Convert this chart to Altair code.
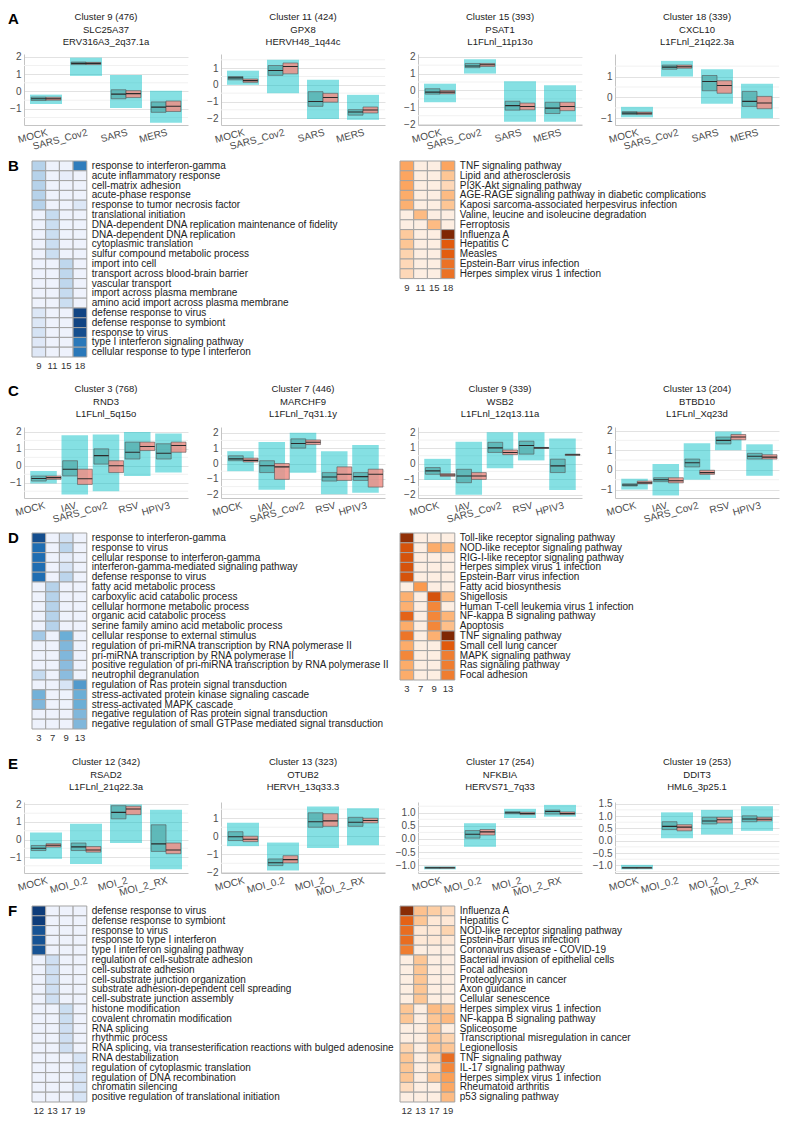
import altair as alt
import pandas as pd

FONT = "Liberation Sans"
TEAL = "#00BFC4"
TEAL_BOX = "#58b1b1"
SALMON_BOX = "#ee8e86"
PANEL_LETTERS = ["A", "B", "C", "D", "E", "F"]

# ---------------- Panel A ----------------
A_CATS = ["MOCK", "SARS_Cov2", "SARS", "MERS"]
A_TITLES = [["Cluster 9 (476)", "SLC25A37", "ERV316A3_2q37.1a"],
            ["Cluster 11 (424)", "GPX8", "HERVH48_1q44c"],
            ["Cluster 15 (393)", "PSAT1", "L1FLnl_11p13o"],
            ["Cluster 18 (339)", "CXCL10", "L1FLnl_21q22.3a"]]
A_DOMAINS = [[-1.93, 2.16], [-2.41, 1.85], [-2.05, 2.16], [-1.32, 2.08]]
A1_TEAL = [(-0.52, -0.42, -0.32), (1.55, 1.62, 1.70), (-0.42, -0.15, 0.10), (-1.20, -0.90, -0.60)]
A1_SALMON = [(-0.50, -0.42, -0.33), (1.55, 1.62, 1.68), (-0.35, -0.12, 0.05), (-1.15, -0.85, -0.55)]
A1_CLOUD = [(-0.72, -0.18), (0.90, 1.95), (-0.95, 0.95), (-1.80, 0.05)]
A2_TEAL = [(0.30, 0.42, 0.50), (0.57, 0.86, 1.16), (-1.29, -1.00, -0.41), (-1.82, -1.63, -1.49)]
A2_SALMON = [(0.15, 0.25, 0.35), (0.66, 1.10, 1.31), (-1.04, -0.76, -0.51), (-1.69, -1.51, -1.33)]
A2_CLOUD = [(0.00, 0.85), (-0.50, 1.50), (-2.05, 0.30), (-2.10, -0.60)]
A3_TEAL = [(-0.22, -0.10, 0.10), (1.35, 1.45, 1.60), (-1.17, -0.90, -0.64), (-1.37, -1.05, -0.70)]
A3_SALMON = [(-0.20, -0.10, 0.00), (1.42, 1.52, 1.60), (-1.15, -0.95, -0.75), (-1.20, -0.95, -0.70)]
A3_CLOUD = [(-0.70, 0.40), (1.00, 1.85), (-1.85, 0.55), (-1.85, 0.30)]
A4_TEAL = [(-0.82, -0.75, -0.68), (1.35, 1.45, 1.55), (0.32, 0.76, 1.05), (-0.43, -0.19, 0.29)]
A4_SALMON = [(-0.82, -0.76, -0.70), (1.40, 1.47, 1.55), (0.20, 0.57, 0.80), (-0.54, -0.27, 0.05)]
A4_CLOUD = [(-0.95, -0.45), (1.00, 1.75), (-0.30, 1.35), (-1.00, 0.65)]
A_MAJOR = [[-1, 0, 1, 2], [-2, -1, 0, 1], [-2, -1, 0, 1, 2], [-1, 0, 1]]
A_MINOR = [[-1.5, -0.5, 0.5, 1.5], [-1.5, -0.5, 0.5, 1.5], [-1.5, -0.5, 0.5, 1.5], [-0.5, 0.5, 1.5]]

# ---------------- Panel B ----------------
B_COLS = ["9", "11", "15", "18"]
B_GO_LABELS = ["response to interferon-gamma", "acute inflammatory response", "cell-matrix adhesion",
               "acute-phase response", "response to tumor necrosis factor", "translational initiation",
               "DNA-dependent DNA replication maintenance of fidelity", "DNA-dependent DNA replication",
               "cytoplasmic translation", "sulfur compound metabolic process", "import into cell",
               "transport across blood-brain barrier", "vascular transport", "import across plasma membrane",
               "amino acid import across plasma membrane", "defense response to virus",
               "defense response to symbiont", "response to virus", "type I interferon signaling pathway",
               "cellular response to type I interferon"]
B_GO_VALUES = [[0.30, 0, 0, 0.70], [0.30, 0, 0.05, 0], [0.30, 0, 0, 0], [0.30, 0, 0, 0], [0.30, 0, 0, 0.12],
               [0, 0.25, 0, 0], [0, 0.22, 0, 0], [0, 0.22, 0, 0], [0, 0.22, 0, 0], [0, 0.22, 0, 0],
               [0, 0, 0.27, 0], [0, 0, 0.27, 0], [0, 0, 0.27, 0], [0, 0, 0.25, 0], [0, 0, 0.22, 0],
               [0.12, 0, 0, 0.92], [0.12, 0, 0, 0.92], [0.16, 0, 0, 0.88], [0.10, 0, 0, 0.72], [0.10, 0, 0, 0.72]]
B_KEGG_LABELS = ["TNF signaling pathway", "Lipid and atherosclerosis", "PI3K-Akt signaling pathway",
                 "AGE-RAGE signaling pathway in diabetic complications",
                 "Kaposi sarcoma-associated herpesvirus infection", "Valine, leucine and isoleucine degradation",
                 "Ferroptosis", "Influenza A", "Hepatitis C", "Measles", "Epstein-Barr virus infection",
                 "Herpes simplex virus 1 infection"]
B_KEGG_VALUES = [[0.45, 0, 0, 0.45], [0.45, 0, 0, 0.30], [0.45, 0, 0, 0.18], [0.42, 0, 0, 0.35],
                 [0.40, 0, 0, 0.30], [0, 0.35, 0, 0], [0, 0, 0.35, 0], [0.28, 0, 0, 1.0],
                 [0.30, 0, 0, 0.75], [0.22, 0, 0, 0.74], [0.18, 0, 0, 0.66], [0.18, 0, 0, 0.66]]

# ---------------- Panel C ----------------
C_CATS = ["MOCK", "IAV", "SARS_Cov2", "RSV", "HPIV3"]
C_TITLES = [["Cluster 3 (768)", "RND3", "L1FLnl_5q15o"],
            ["Cluster 7 (446)", "MARCHF9", "L1FLnl_7q31.1y"],
            ["Cluster 9 (339)", "WSB2", "L1FLnl_12q13.11a"],
            ["Cluster 13 (204)", "BTBD10", "L1FLnl_Xq23d"]]
C_DOMAINS = [[-1.90, 2.29], [-2.24, 2.37], [-2.21, 2.34], [-1.43, 2.18]]
C1_TEAL = [(-0.90, -0.75, -0.60), (-0.60, -0.20, 0.30), (0.10, 0.60, 1.00), (0.40, 0.80, 1.40), (0.40, 0.74, 1.30)]
C1_SALMON = [(-0.80, -0.70, -0.60), (-1.10, -0.76, -0.20), (-0.40, 0.00, 0.30), (0.90, 1.14, 1.40), (0.80, 1.20, 1.40)]
C1_CLOUD = [(-1.05, -0.30), (-1.70, 1.80), (-1.50, 1.85), (-0.60, 2.00), (-0.40, 1.90)]
C2_TEAL = [(0.18, 0.30, 0.50), (-0.59, -0.15, 0.18), (1.00, 1.30, 1.60), (-1.14, -0.88, -0.59), (-1.10, -0.85, -0.59)]
C2_SALMON = [(0.10, 0.20, 0.35), (-1.03, -0.22, 0.00), (1.23, 1.38, 1.53), (-1.10, -0.70, -0.22), (-1.53, -0.70, -0.37)]
C2_CLOUD = [(-0.50, 0.80), (-1.70, 1.40), (-0.60, 2.00), (-2.00, 0.80), (-1.90, 1.20)]
C3_TEAL = [(-0.69, -0.47, -0.26), (-1.23, -0.80, -0.37), (0.71, 1.00, 1.36), (0.60, 1.15, 1.43), (-0.58, -0.15, 0.28)]
C3_SALMON = [(-0.82, -0.74, -0.65), (-1.02, -0.80, -0.58), (0.57, 0.71, 0.87), (0.97, 1.00, 1.03), (0.52, 0.56, 0.60)]
C3_CLOUD = [(-1.05, 0.30), (-2.00, 1.40), (-0.30, 2.00), (0.20, 2.00), (-1.70, 1.60)]
C4_TEAL = [(-0.82, -0.77, -0.71), (-0.60, -0.50, -0.40), (0.15, 0.36, 0.55), (1.32, 1.50, 1.67), (0.55, 0.69, 0.84)]
C4_SALMON = [(-0.71, -0.66, -0.57), (-0.66, -0.55, -0.40), (-0.23, -0.14, -0.02), (1.53, 1.67, 1.80), (0.55, 0.65, 0.77)]
C4_CLOUD = [(-1.00, -0.45), (-1.30, 0.30), (-0.50, 1.35), (1.00, 1.95), (-0.30, 1.30)]
C_MAJOR = [[-1, 0, 1, 2], [-2, -1, 0, 1, 2], [-2, -1, 0, 1, 2], [-1, 0, 1, 2]]
C_MINOR = [[-1.5, -0.5, 0.5, 1.5], [-1.5, -0.5, 0.5, 1.5], [-1.5, -0.5, 0.5, 1.5], [-0.5, 0.5, 1.5]]

# ---------------- Panel D ----------------
D_COLS = ["3", "7", "9", "13"]
D_GO_LABELS = ["response to interferon-gamma", "response to virus", "cellular response to interferon-gamma",
               "interferon-gamma-mediated signaling pathway", "defense response to virus",
               "fatty acid metabolic process", "carboxylic acid catabolic process",
               "cellular hormone metabolic process", "organic acid catabolic process",
               "serine family amino acid metabolic process", "cellular response to external stimulus",
               "regulation of pri-miRNA transcription by RNA polymerase II",
               "pri-miRNA transcription by RNA polymerase II",
               "positive regulation of pri-miRNA transcription by RNA polymerase II",
               "neutrophil degranulation", "regulation of Ras protein signal transduction",
               "stress-activated protein kinase signaling cascade", "stress-activated MAPK cascade",
               "negative regulation of Ras protein signal transduction",
               "negative regulation of small GTPase mediated signal transduction"]
D_GO_VALUES = [[0.88, 0, 0.18, 0], [0.76, 0, 0.28, 0], [0.76, 0, 0.06, 0], [0.76, 0, 0.15, 0], [0.76, 0, 0.28, 0],
               [0, 0.30, 0, 0], [0, 0.30, 0, 0], [0, 0.30, 0, 0], [0, 0.30, 0, 0], [0, 0.30, 0, 0],
               [0.35, 0, 0.50, 0], [0, 0, 0.45, 0], [0, 0, 0.45, 0], [0, 0, 0.42, 0], [0.25, 0, 0.42, 0],
               [0, 0, 0.15, 0.58], [0.48, 0, 0, 0.50], [0.45, 0, 0, 0.50], [0, 0, 0, 0.45], [0, 0, 0, 0.45]]
D_KEGG_LABELS = ["Toll-like receptor signaling pathway", "NOD-like receptor signaling pathway",
                 "RIG-I-like receptor signaling pathway", "Herpes simplex virus 1 infection",
                 "Epstein-Barr virus infection", "Fatty acid biosynthesis", "Shigellosis",
                 "Human T-cell leukemia virus 1 infection", "NF-kappa B signaling pathway", "Apoptosis",
                 "TNF signaling pathway", "Small cell lung cancer", "MAPK signaling pathway",
                 "Ras signaling pathway", "Focal adhesion"]
D_KEGG_VALUES = [[0.95, 0, 0, 0], [0.78, 0, 0.42, 0.35], [0.78, 0, 0, 0], [0.78, 0, 0, 0], [0.78, 0, 0, 0],
                 [0, 0.50, 0, 0], [0.40, 0, 0.78, 0.35], [0.40, 0, 0.58, 0], [0.72, 0, 0.58, 0.38],
                 [0.42, 0, 0.58, 0.33], [0.65, 0, 0.40, 1.0], [0.42, 0, 0, 0.75], [0.58, 0, 0, 0.62],
                 [0.42, 0, 0, 0.62], [0.42, 0, 0, 0.62]]

# ---------------- Panel E ----------------
E_CATS = ["MOCK", "MOI_0.2", "MOI_2", "MOI_2_RX"]
E_TITLES = [["Cluster 12 (342)", "RSAD2", "L1FLnl_21q22.3a"],
            ["Cluster 13 (323)", "OTUB2", "HERVH_13q33.3"],
            ["Cluster 17 (254)", "NFKBIA", "HERVS71_7q33"],
            ["Cluster 19 (253)", "DDIT3", "HML6_3p25.1"]]
E_DOMAINS = [[-1.91, 2.14], [-2.04, 1.90], [-1.30, 1.41], [-1.31, 1.57]]
E1_TEAL = [(-0.63, -0.50, -0.34), (-0.63, -0.42, -0.20), (1.18, 1.55, 1.93), (-0.68, -0.25, 0.84)]
E1_SALMON = [(-0.43, -0.33, -0.24), (-0.72, -0.60, -0.40), (1.42, 1.74, 1.90), (-0.81, -0.60, -0.20)]
E1_CLOUD = [(-1.10, 0.40), (-1.40, 0.90), (-0.20, 2.00), (-1.70, 1.70)]
E2_TEAL = [(-0.24, -0.03, 0.25), (-1.63, -1.47, -1.26), (0.50, 0.80, 1.30), (0.55, 0.78, 1.05)]
E2_SALMON = [(-0.30, -0.17, 0.00), (-1.48, -1.30, -1.08), (0.55, 0.85, 1.25), (0.74, 0.87, 1.00)]
E2_CLOUD = [(-0.55, 0.75), (-1.90, -0.35), (-0.65, 1.65), (-0.50, 1.55)]
E3_TEAL = [(-1.12, -1.10, -1.08), (0.03, 0.18, 0.32), (0.96, 1.00, 1.04), (0.95, 1.05, 1.10)]
E3_SALMON = [(-1.12, -1.10, -1.08), (0.15, 0.27, 0.36), (0.93, 0.97, 1.02), (0.93, 0.97, 1.03)]
E3_CLOUD = [(-1.16, -1.05), (-0.30, 0.60), (0.80, 1.15), (0.85, 1.30)]
E4_TEAL = [(-1.12, -1.10, -1.08), (0.45, 0.58, 0.77), (0.68, 0.80, 0.95), (0.77, 0.88, 1.01)]
E4_SALMON = [(-1.12, -1.10, -1.08), (0.40, 0.55, 0.65), (0.72, 0.85, 0.95), (0.80, 0.87, 0.95)]
E4_CLOUD = [(-1.16, -0.98), (0.10, 1.15), (0.25, 1.25), (0.40, 1.40)]
E_MAJOR = [[-1, 0, 1, 2], [-2, -1, 0, 1], [-1.0, -0.5, 0.0, 0.5, 1.0], [-1.0, -0.5, 0.0, 0.5, 1.0, 1.5]]
E_MINOR = [[-1.5, -0.5, 0.5, 1.5], [-1.5, -0.5, 0.5, 1.5], [-1.25, -0.75, -0.25, 0.25, 0.75, 1.25],
           [-1.25, -0.75, -0.25, 0.25, 0.75, 1.25]]

# ---------------- Panel F ----------------
F_COLS = ["12", "13", "17", "19"]
F_GO_LABELS = ["defense response to virus", "defense response to symbiont", "response to virus",
               "response to type I interferon", "type I interferon signaling pathway",
               "regulation of cell-substrate adhesion", "cell-substrate adhesion",
               "cell-substrate junction organization", "substrate adhesion-dependent cell spreading",
               "cell-substrate junction assembly", "histone modification", "covalent chromatin modification",
               "RNA splicing", "rhythmic process",
               "RNA splicing, via transesterification reactions with bulged adenosine",
               "RNA destabilization", "regulation of cytoplasmic translation",
               "regulation of DNA recombination", "chromatin silencing",
               "positive regulation of translational initiation"]
F_GO_VALUES = [[0.95, 0, 0, 0], [0.95, 0, 0, 0], [0.86, 0, 0, 0], [0.86, 0, 0, 0], [0.86, 0, 0, 0],
               [0, 0.20, 0, 0], [0, 0.20, 0, 0], [0, 0.20, 0, 0], [0, 0.20, 0, 0], [0, 0.20, 0, 0],
               [0, 0, 0.22, 0], [0, 0, 0.22, 0], [0, 0, 0.20, 0], [0, 0, 0.20, 0], [0, 0, 0.20, 0],
               [0, 0, 0, 0.15], [0, 0, 0, 0.15], [0, 0, 0, 0.15], [0, 0, 0, 0.15], [0, 0, 0, 0.15]]
F_KEGG_LABELS = ["Influenza A", "Hepatitis C", "NOD-like receptor signaling pathway",
                 "Epstein-Barr virus infection", "Coronavirus disease - COVID-19",
                 "Bacterial invasion of epithelial cells", "Focal adhesion", "Proteoglycans in cancer",
                 "Axon guidance", "Cellular senescence", "Herpes simplex virus 1 infection",
                 "NF-kappa B signaling pathway", "Spliceosome", "Transcriptional misregulation in cancer",
                 "Legionellosis", "TNF signaling pathway", "IL-17 signaling pathway",
                 "Herpes simplex virus 1 infection", "Rheumatoid arthritis", "p53 signaling pathway"]
F_KEGG_VALUES = [[0.97, 0.32, 0.26, 0.15], [0.72, 0.30, 0.05, 0.05], [0.68, 0.05, 0.05, 0.22],
                 [0.68, 0.05, 0.05, 0.05], [0.62, 0, 0, 0], [0, 0.30, 0, 0], [0, 0.30, 0, 0],
                 [0, 0.30, 0, 0], [0, 0.30, 0, 0], [0, 0.30, 0, 0], [0.30, 0, 0.35, 0.30],
                 [0.30, 0, 0.30, 0.36], [0, 0, 0.30, 0], [0, 0, 0.30, 0.22], [0.22, 0, 0.30, 0.30],
                 [0.30, 0, 0.22, 0.68], [0.30, 0, 0.12, 0.58], [0.30, 0, 0.30, 0.48],
                 [0.15, 0, 0, 0.44], [0, 0, 0, 0.35]]

BLUE_STOPS = ["#eef2fc", "#c6dbef", "#6baed6", "#2171b5", "#08306b"]
ORANGE_STOPS = ["#fdeee2", "#fdd0a8", "#fb9a4e", "#e15a0c", "#7f2704"]
STOP_DOMAIN = [0, 0.25, 0.5, 0.75, 1.0]

PLOT_W = 164
PLOT_H = 71
BOX_GAP = 33
ROW_H = 9.8
COL_W = 13.7


def letter_mark(letter, x, y):
    return alt.Chart(pd.DataFrame({"t": [letter]})).mark_text(
        font=FONT, fontSize=15, fontWeight="bold", align="left", baseline="middle", color="#000000").encode(
        text="t:N", x=alt.value(x), y=alt.value(y))


def title_line(text, y):
    return alt.Chart(pd.DataFrame({"t": [text]})).mark_text(
        font=FONT, fontSize=9.5, color="#222222", align="center", baseline="middle").encode(
        text="t:N", x=alt.value(PLOT_W / 2), y=alt.value(y))


def box_panel(cats, teal, salmon, cloud, domain, title, major, minor, fmt, pad_inner, pad_outer,
              title_ys, letter=None):
    rows = []
    for c, t, s in zip(cats, teal, salmon):
        rows.append(dict(cat=c, grp="a", q1=t[0], med=t[1], q3=t[2]))
        rows.append(dict(cat=c, grp="b", q1=s[0], med=s[1], q3=s[2]))
    box_df = pd.DataFrame(rows)
    cloud_df = pd.DataFrame(dict(cat=cats, lo=[c[0] for c in cloud], hi=[c[1] for c in cloud]))
    minor_df = pd.DataFrame(dict(v=minor))
    xscale = alt.Scale(domain=cats, paddingInner=pad_inner, paddingOuter=pad_outer)
    yscale = alt.Scale(domain=domain, nice=False, zero=False)
    yaxis = alt.Axis(values=major, format=fmt, gridColor="#e2e2e2", title=None, ticks=False,
                     labelPadding=3, labelFontSize=10, labelOverlap=False, domain=True)
    xaxis = alt.Axis(labelAngle=345, labelAlign="right", labelBaseline="top", bandPosition=0.5,
                     title=None, ticks=False, labelPadding=2, labelFontSize=10, gridColor="#e8e8e8",
                     labelOverlap=False)
    x = alt.X("cat:N", scale=xscale, sort=cats, axis=xaxis)
    xo = alt.XOffset("grp:N", scale=alt.Scale(domain=["a", "b"], paddingOuter=0.08))
    minor_grid = alt.Chart(minor_df).mark_rule(color="#f1f1f1", strokeWidth=1).encode(
        y=alt.Y("v:Q", scale=yscale, axis=yaxis))
    clouds = alt.Chart(cloud_df).mark_rect(color=TEAL, opacity=0.48).encode(
        x=x, y=alt.Y("lo:Q", scale=yscale, axis=yaxis), y2="hi:Q")
    boxes = alt.Chart(box_df).mark_rect(stroke="#555555", strokeWidth=0.6, fillOpacity=0.85).encode(
        x=x, xOffset=xo, y=alt.Y("q1:Q", scale=yscale, axis=yaxis), y2="q3:Q",
        fill=alt.Fill("grp:N", scale=alt.Scale(domain=["a", "b"], range=[TEAL_BOX, SALMON_BOX]), legend=None))
    meds = alt.Chart(box_df).mark_rect(stroke="#2b2b2b", strokeWidth=1.1, fillOpacity=0).encode(
        x=x, xOffset=xo, y=alt.Y("med:Q", scale=yscale, axis=yaxis), y2="med:Q")
    layers = [minor_grid, clouds, boxes, meds]
    for txt, ty in zip(title, title_ys):
        layers.append(title_line(txt, ty))
    if letter:
        layers.append(letter_mark(letter, -16, title_ys[0] + 1.5))
    return alt.layer(*layers).properties(width=PLOT_W, height=PLOT_H)


def heatmap(labels, values, cols, stops, top, x0, width, height, letter=None):
    n = len(labels)
    rows = []
    for i, vals in enumerate(values):
        for c, v in zip(cols, vals):
            rows.append(dict(r=i, c=c, v=v))
    df = pd.DataFrame(rows)
    lab_df = pd.DataFrame(dict(r=list(range(n)), label=labels))
    col_df = pd.DataFrame(dict(c=cols))
    yscale = alt.Scale(domain=list(range(n)), range=[top, top + n * ROW_H], paddingInner=0, paddingOuter=0)
    xscale = alt.Scale(domain=cols, range=[x0, x0 + len(cols) * COL_W], paddingInner=0, paddingOuter=0)
    cells = alt.Chart(df).mark_rect(stroke="#a3a3a3", strokeWidth=1).encode(
        x=alt.X("c:N", scale=xscale, axis=None, sort=cols),
        y=alt.Y("r:O", scale=yscale, axis=None),
        fill=alt.Fill("v:Q", scale=alt.Scale(domain=STOP_DOMAIN, range=stops), legend=None))
    texts = alt.Chart(lab_df).mark_text(align="left", baseline="middle", fontSize=10, font=FONT,
                                        color="#222222").encode(
        y=alt.Y("r:O", scale=yscale, axis=None), x=alt.value(x0 + len(cols) * COL_W + 5), text="label:N")
    colt = alt.Chart(col_df).mark_text(align="center", baseline="middle", fontSize=9.5, font=FONT,
                                       color="#333333").encode(
        x=alt.X("c:N", scale=xscale, axis=None, sort=cols), y=alt.value(top + n * ROW_H + 9), text="c:N")
    layers = [cells, texts, colt]
    if letter:
        layers.append(letter_mark(letter, -16, top + 5))
    return alt.layer(*layers).properties(width=width, height=height)


def box_row(cats, titles, domains, teals, salmons, clouds, majors, minors, fmts, pi, po, letter, title_ys):
    panels = []
    for k in range(4):
        panels.append(box_panel(cats, teals[k], salmons[k], clouds[k], domains[k], titles[k], majors[k],
                                minors[k], fmts[k], pi, po, title_ys, letter if k == 0 else None))
    return alt.hconcat(*panels, spacing=BOX_GAP, bounds="flush").resolve_scale(fill="independent")


def heat_row(go_labels, go_values, kegg_labels, kegg_values, cols, top, height, letter):
    left = heatmap(go_labels, go_values, cols, BLUE_STOPS, top, 8, 372, height, letter)
    right = heatmap(kegg_labels, kegg_values, cols, ORANGE_STOPS, top, 0, 56, height)
    return alt.hconcat(left, right, spacing=4, bounds="flush").resolve_scale(fill="independent")


rowA = box_row(A_CATS, A_TITLES, A_DOMAINS, [A1_TEAL, A2_TEAL, A3_TEAL, A4_TEAL],
               [A1_SALMON, A2_SALMON, A3_SALMON, A4_SALMON], [A1_CLOUD, A2_CLOUD, A3_CLOUD, A4_CLOUD],
               A_MAJOR, A_MINOR, ["d"] * 4, 0.2, 0.15, PANEL_LETTERS[0], [-37, -24.5, -12])
rowB = heat_row(B_GO_LABELS, B_GO_VALUES, B_KEGG_LABELS, B_KEGG_VALUES, B_COLS, 9, 231, PANEL_LETTERS[1])
rowC = box_row(C_CATS, C_TITLES, C_DOMAINS, [C1_TEAL, C2_TEAL, C3_TEAL, C4_TEAL],
               [C1_SALMON, C2_SALMON, C3_SALMON, C4_SALMON], [C1_CLOUD, C2_CLOUD, C3_CLOUD, C4_CLOUD],
               C_MAJOR, C_MINOR, ["d"] * 4, 0.15, 0.2, PANEL_LETTERS[2], [-38, -25.5, -13])
rowD = heat_row(D_GO_LABELS, D_GO_VALUES, D_KEGG_LABELS, D_KEGG_VALUES, D_COLS, 8, 231, PANEL_LETTERS[3])
rowE = box_row(E_CATS, E_TITLES, E_DOMAINS, [E1_TEAL, E2_TEAL, E3_TEAL, E4_TEAL],
               [E1_SALMON, E2_SALMON, E3_SALMON, E4_SALMON], [E1_CLOUD, E2_CLOUD, E3_CLOUD, E4_CLOUD],
               E_MAJOR, E_MINOR, ["d", "d", ".1f", ".1f"], 0.2, 0.15, PANEL_LETTERS[4], [-40, -27.5, -15])
rowF = heat_row(F_GO_LABELS, F_GO_VALUES, F_KEGG_LABELS, F_KEGG_VALUES, F_COLS, 8, 222, PANEL_LETTERS[5])

chart = alt.vconcat(rowA, rowB, rowC, rowD, rowE, rowF, spacing=0,
                    padding={"top": 3, "left": 0, "right": 0, "bottom": 0}).resolve_scale(
    fill="independent").configure_view(stroke=None).configure_axis(
    labelFont=FONT, labelColor="#4d4d4d", domainColor="#c4c4c4")

chart.save("out.html", embed_options={"renderer": "svg", "actions": False})
